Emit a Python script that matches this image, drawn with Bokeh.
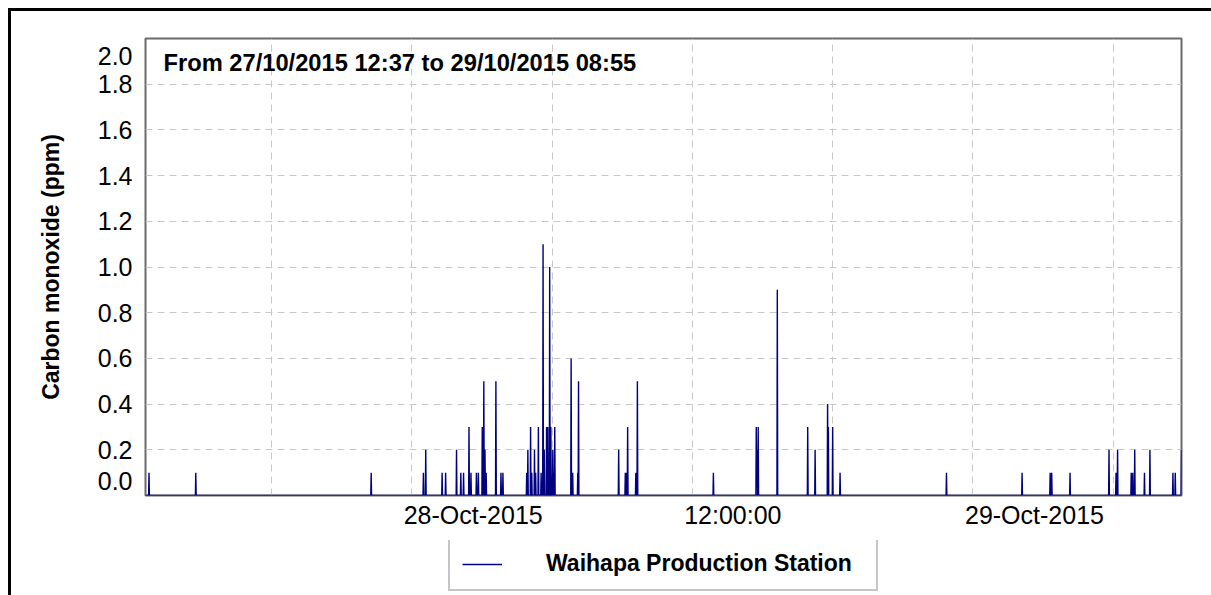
from datetime import datetime, timedelta

from bokeh.plotting import figure
from bokeh.layouts import column
from bokeh.models import (Range1d, FixedTicker, Label, Legend, LegendItem,
                          NumeralTickFormatter)
from bokeh.embed import file_html
from bokeh.resources import INLINE

# ---------------- data ----------------
start_time = "2015-10-27 12:37"
end_time = "2015-10-29 08:55"

# non-zero 1-minute readings (ppm); every other minute reads 0.0
reading_times = [
    "2015-10-27 12:46", "2015-10-27 14:46", "2015-10-27 22:16",
    "2015-10-28 00:30", "2015-10-28 00:36", "2015-10-28 01:18", "2015-10-28 01:27",
    "2015-10-28 01:55", "2015-10-28 02:06", "2015-10-28 02:13", "2015-10-28 02:27",
    "2015-10-28 02:32", "2015-10-28 02:46", "2015-10-28 02:51", "2015-10-28 03:01",
    "2015-10-28 03:05", "2015-10-28 03:08", "2015-10-28 03:11", "2015-10-28 03:36",
    "2015-10-28 03:49", "2015-10-28 03:54",
    "2015-10-28 04:55", "2015-10-28 04:58", "2015-10-28 05:05", "2015-10-28 05:08",
    "2015-10-28 05:15", "2015-10-28 05:18", "2015-10-28 05:25", "2015-10-28 05:32",
    "2015-10-28 05:37", "2015-10-28 05:40", "2015-10-28 05:46", "2015-10-28 05:49",
    "2015-10-28 05:54", "2015-10-28 05:57", "2015-10-28 06:02", "2015-10-28 06:05",
    "2015-10-28 06:07",
    "2015-10-28 06:49", "2015-10-28 06:53", "2015-10-28 07:06", "2015-10-28 07:08",
    "2015-10-28 08:51", "2015-10-28 09:08", "2015-10-28 09:11", "2015-10-28 09:14",
    "2015-10-28 09:35", "2015-10-28 09:39", "2015-10-28 12:54",
    "2015-10-28 14:44", "2015-10-28 14:45", "2015-10-28 14:46", "2015-10-28 14:49",
    "2015-10-28 15:38", "2015-10-28 16:56", "2015-10-28 17:15", "2015-10-28 17:47",
    "2015-10-28 17:49", "2015-10-28 18:00", "2015-10-28 18:19", "2015-10-28 22:52",
    "2015-10-29 02:06", "2015-10-29 03:18", "2015-10-29 03:22", "2015-10-29 04:09",
    "2015-10-29 05:49", "2015-10-29 06:07", "2015-10-29 06:11", "2015-10-29 06:46",
    "2015-10-29 06:50", "2015-10-29 06:55", "2015-10-29 07:20", "2015-10-29 07:34",
    "2015-10-29 08:33", "2015-10-29 08:39", "2015-10-29 08:55",
]
reading_values = [
    0.1, 0.1, 0.1,
    0.1, 0.2, 0.1, 0.1,
    0.2, 0.1, 0.1, 0.3,
    0.1, 0.1, 0.1, 0.3,
    0.5, 0.2, 0.1, 0.5,
    0.1, 0.1,
    0.1, 0.2, 0.3, 0.1,
    0.2, 0.1, 0.3, 0.1,
    1.1, 0.2, 0.3, 0.3,
    1.0, 0.3, 0.2, 0.1,
    0.3,
    0.6, 0.1, 0.1, 0.5,
    0.2, 0.1, 0.1, 0.3,
    0.1, 0.5, 0.1,
    0.3, 0.1, 0.2, 0.3,
    0.9, 0.3, 0.2, 0.4,
    0.3, 0.3, 0.1, 0.1,
    0.1, 0.1, 0.1, 0.1,
    0.2, 0.1, 0.2, 0.1,
    0.1, 0.2, 0.1, 0.2,
    0.1, 0.1, 0.2,
]

series_name = "Waihapa Production Station"
title_text = "From 27/10/2015 12:37 to 29/10/2015 08:55"
y_axis_title = "Carbon monoxide (ppm)"

x_tick_times = ["2015-10-28 00:00", "2015-10-28 12:00", "2015-10-29 00:00"]
x_tick_labels = ["28-Oct-2015", "12:00:00", "29-Oct-2015"]
x_grid_times = ["2015-10-27 18:00", "2015-10-28 00:00", "2015-10-28 06:00",
                "2015-10-28 12:00", "2015-10-28 18:00", "2015-10-29 00:00",
                "2015-10-29 06:00"]
y_ticks = [0.2, 0.4, 0.6, 0.8, 1.0, 1.2, 1.4, 1.6, 1.8]
y_min, y_max = 0.0, 2.0
y_end_labels = ["0.0", "2.0"]

# ---------------- helpers ----------------
FMT = "%Y-%m-%d %H:%M"
EPOCH = datetime(1970, 1, 1)


def dt(s):
    return datetime.strptime(s, FMT)


def ms(d):
    return (d - EPOCH).total_seconds() * 1000.0


t0, t1 = dt(start_time), dt(end_time)
minute = timedelta(minutes=1)
readings = {dt(t): v for t, v in zip(reading_times, reading_values)}
stamps = {t0, t1}
for t in readings:
    for d in (t - minute, t, t + minute):
        if t0 <= d <= t1:
            stamps.add(d)
xs = sorted(stamps)
ys = [readings.get(d, 0.0) for d in xs]

# ---------------- main figure ----------------
FONT = "Liberation Sans"
FRAME_W, FRAME_H = 1036, 457
p = figure(width=1200, height=529, x_axis_type="datetime",
           x_range=Range1d(ms(t0), ms(t1)), y_range=Range1d(y_min, y_max),
           output_backend="svg", toolbar_location=None,
           min_border_left=134, min_border_right=30,
           min_border_top=27, min_border_bottom=45,
           background_fill_color="white", border_fill_color="white",
           outline_line_color="#6a6a6a", outline_line_width=2)

line = p.line(xs, ys, line_color="navy", line_width=1.4)

# x axis: labels sit just right of their 6-hourly grid line (as in the original)
ms_per_px = (ms(t1) - ms(t0)) / FRAME_W
label_px_widths = [139, 97, 139]
xt = [ms(dt(s)) + (w / 2 - 8) * ms_per_px for s, w in zip(x_tick_times, label_px_widths)]
p.xaxis.ticker = FixedTicker(ticks=xt)
p.xaxis.major_label_overrides = {v: lab for v, lab in zip(xt, x_tick_labels)}
p.xaxis.major_label_text_font = FONT
p.xaxis.major_label_text_font_size = "25px"
p.xaxis.major_label_text_color = "black"
p.xaxis.major_label_standoff = 5
p.xaxis.axis_line_color = None
p.xaxis.major_tick_line_color = None
p.xaxis.minor_tick_line_color = None
p.xaxis.major_tick_out = 0
p.xaxis.major_tick_in = 0

# y axis: end labels drawn slightly inward (as in the original)
val_per_px = (y_max - y_min) / FRAME_H
y_lo = y_min + 15 * val_per_px
y_hi = y_max - 17 * val_per_px
p.yaxis.ticker = FixedTicker(ticks=[y_lo] + y_ticks + [y_hi])
p.yaxis.formatter = NumeralTickFormatter(format="0.0")
p.yaxis.major_label_overrides = {y_lo: y_end_labels[0], y_hi: y_end_labels[1]}
p.yaxis.major_label_text_font = FONT
p.yaxis.major_label_text_font_size = "25px"
p.yaxis.major_label_text_color = "black"
p.yaxis.major_label_standoff = 13
p.yaxis.axis_line_color = None
p.yaxis.major_tick_line_color = None
p.yaxis.minor_tick_line_color = None
p.yaxis.major_tick_out = 0
p.yaxis.major_tick_in = 0
p.yaxis.axis_label = y_axis_title
p.yaxis.axis_label_text_font = FONT
p.yaxis.axis_label_text_font_size = "23px"
p.yaxis.axis_label_text_font_style = "bold"
p.yaxis.axis_label_text_color = "black"
p.yaxis.axis_label_standoff = 31

# grids
p.xgrid.ticker = FixedTicker(ticks=[ms(dt(s)) for s in x_grid_times])
p.ygrid.ticker = FixedTicker(ticks=y_ticks)
for g in (p.xgrid, p.ygrid):
    g.grid_line_color = "#c8c8c8"
    g.grid_line_dash = "7 5"
    g.grid_line_width = 1

# chart title inside plot
p.add_layout(Label(x=ms(t0), y=y_max, x_offset=18, y_offset=-11, text=title_text,
                   text_align="left", text_baseline="top", text_font=FONT,
                   text_font_size="23.7px", text_font_style="bold", text_color="black"))

# ---------------- legend strip below the chart ----------------
# same series, drawn in a strip whose y-range lies above the data, so only its key shows
lf = figure(width=1200, height=55, output_backend="svg", toolbar_location=None,
            x_range=p.x_range, y_range=Range1d(10, 11),
            x_axis_location=None, y_axis_location=None,
            min_border=0, outline_line_color=None,
            background_fill_color="white", border_fill_color="white")
lf.grid.visible = False
key = lf.line(xs, ys, line_color="navy", line_width=1.4)
legend = Legend(items=[LegendItem(label=series_name, renderers=[key])],
                location=(303, 4), orientation="horizontal",
                glyph_width=40, glyph_height=24, label_standoff=44,
                label_width=318, padding=12, spacing=0, margin=0,
                label_text_font=FONT, label_text_font_size="23px",
                label_text_font_style="bold", label_text_color="black",
                border_line_color="#8c8c8c", border_line_width=2,
                background_fill_color="white", background_fill_alpha=1.0)
lf.add_layout(legend)

page = column(p, lf, spacing=0)
page.styles = {"border-top": "3px solid black", "border-left": "3px solid black",
               "margin-left": "8px", "margin-top": "8px"}

open("out.html", "w").write(file_html(page, INLINE))
